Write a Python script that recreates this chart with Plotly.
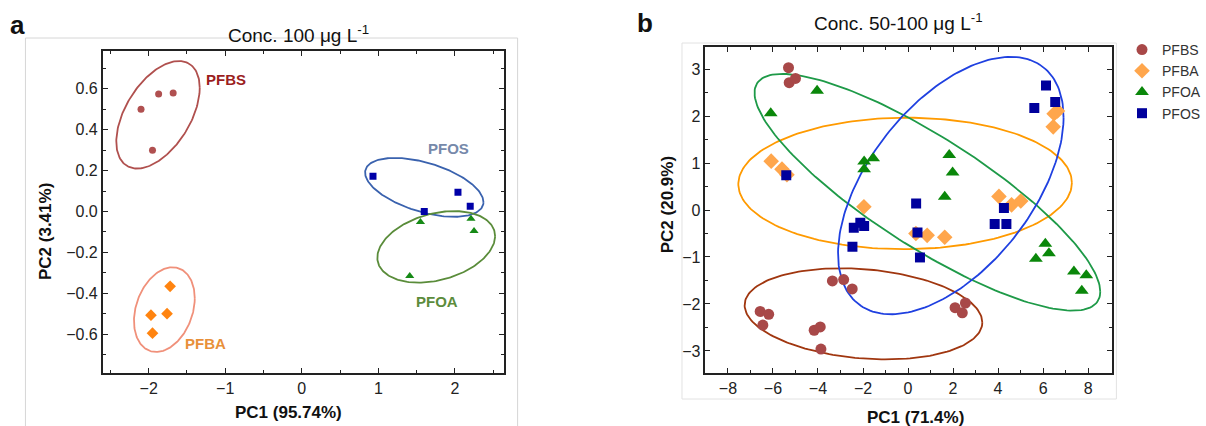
import numpy as np
import plotly.graph_objects as go

# ---------------- Panel a data (Conc. 100 ug/L) ----------------
a_pfbs_x = [-2.10, -1.87, -1.68, -1.95]
a_pfbs_y = [0.50, 0.575, 0.58, 0.30]
a_pfba_x = [-1.72, -1.97, -1.76, -1.95]
a_pfba_y = [-0.366, -0.507, -0.50, -0.595]
a_pfos_x = [0.93, 2.04, 2.20, 1.60]
a_pfos_y = [0.172, 0.094, 0.026, 0.0]
a_pfoa_x = [1.55, 2.21, 2.25, 1.41]
a_pfoa_y = [-0.052, -0.036, -0.096, -0.316]

# ellipse parameters: centre x, centre y, half-width x, half-height y, correlation
a_ell_pfbs = [-1.878, 0.473, 0.545, 0.263, 0.50]
a_ell_pfba = [-1.795, -0.480, 0.397, 0.207, 0.27]
a_ell_pfos = [1.60, 0.118, 0.773, 0.144, -0.50]
a_ell_pfoa = [1.756, -0.173, 0.769, 0.175, 0.30]

# ---------------- Panel b data (Conc. 50-100 ug/L) ----------------
b_pfbs_x = [-5.31, -5.28, -5.00, -3.36, -2.86, -2.48, -6.57, -6.19, -6.45, -4.17, -3.90, -3.87, 2.09, 2.41, 2.55]
b_pfbs_y = [3.03, 2.71, 2.80, -1.51, -1.48, -1.68, -2.16, -2.22, -2.45, -2.56, -2.49, -2.96, -2.08, -2.19, -1.98]
b_pfba_x = [-6.08, -5.60, -5.38, -1.96, 0.35, 0.85, 1.63, 4.04, 4.60, 5.01, 6.45, 6.49, 6.64]
b_pfba_y = [1.04, 0.87, 0.75, 0.07, -0.50, -0.54, -0.58, 0.29, 0.11, 0.19, 1.77, 2.05, 2.11]
b_pfoa_x = [-6.10, -4.04, -1.95, -1.55, -1.95, 1.83, 1.98, 1.63, 6.10, 6.26, 5.68, 7.37, 7.92, 7.72]
b_pfoa_y = [2.06, 2.54, 1.03, 1.10, 0.87, 1.17, 0.80, 0.28, -0.72, -0.92, -1.04, -1.31, -1.39, -1.72]
b_pfos_x = [-5.41, -2.41, -2.12, -1.95, -2.47, 0.36, 0.42, 0.53, 4.26, 3.85, 4.37, 5.61, 6.13, 6.54]
b_pfos_y = [0.74, -0.38, -0.27, -0.34, -0.78, 0.14, -0.48, -1.01, 0.04, -0.30, -0.30, 2.17, 2.65, 2.30]

b_ell_pfbs = [-1.98, -2.21, 5.28, 0.97, -0.19]
b_ell_pfba = [-0.13, 0.565, 7.41, 1.40, 0.01]
b_ell_pfoa = [0.86, 0.377, 7.68, 2.52, -0.84]
b_ell_pfos = [1.90, 0.52, 5.01, 2.74, 0.53]

series_names = ["PFBS", "PFBA", "PFOA", "PFOS"]

W, H = 1206, 426
FONT = "Liberation Sans, Arial, sans-serif"


def ellipse(p, n=200):
    cx, cy, a, b, rho = p
    t = np.linspace(0, 2 * np.pi, n)
    x = cx + a * np.cos(t)
    y = cy + b * (rho * np.cos(t) + np.sqrt(1 - rho ** 2) * np.sin(t))
    return x, y


fig = go.Figure()

# ---- panel a ----
for p, col in [(a_ell_pfbs, "#B0504E"), (a_ell_pfba, "#F0907A"),
               (a_ell_pfos, "#3A62AE"), (a_ell_pfoa, "#5A8C3A")]:
    ex, ey = ellipse(p)
    fig.add_trace(go.Scatter(x=ex, y=ey, mode="lines", line=dict(color=col, width=1.8),
                             showlegend=False, hoverinfo="skip", xaxis="x", yaxis="y"))

for xs, ys, sym, col, sz in [(a_pfbs_x, a_pfbs_y, "circle", "#B05050", 7),
                             (a_pfba_x, a_pfba_y, "diamond", "#FF8410", 9),
                             (a_pfos_x, a_pfos_y, "square", "#0000A8", 7),
                             (a_pfoa_x, a_pfoa_y, "triangle-up", "#168A16", 8)]:
    fig.add_trace(go.Scatter(x=xs, y=ys, mode="markers",
                             marker=dict(symbol=sym, color=col, size=sz, line=dict(width=0)),
                             showlegend=False, xaxis="x", yaxis="y"))

# ---- panel b ----
for p, col in [(b_ell_pfbs, "#A0360F"), (b_ell_pfba, "#FF9A00"),
               (b_ell_pfoa, "#1E9A48"), (b_ell_pfos, "#1F40E0")]:
    ex, ey = ellipse(p)
    fig.add_trace(go.Scatter(x=ex, y=ey, mode="lines", line=dict(color=col, width=1.8),
                             showlegend=False, hoverinfo="skip", xaxis="x2", yaxis="y2"))

for name, xs, ys, sym, col, sz in [
        ("PFBS", b_pfbs_x, b_pfbs_y, "circle", "#A84848", 11),
        ("PFBA", b_pfba_x, b_pfba_y, "diamond", "#FFA64C", 12),
        ("PFOA", b_pfoa_x, b_pfoa_y, "triangle-up", "#0A870A", 12),
        ("PFOS", b_pfos_x, b_pfos_y, "square", "#00009C", 10)]:
    fig.add_trace(go.Scatter(x=xs, y=ys, mode="markers", name=name,
                             marker=dict(symbol=sym, color=col, size=sz, line=dict(width=0)),
                             showlegend=True, xaxis="x2", yaxis="y2"))

axis_common = dict(showgrid=False, zeroline=False, showline=True, linecolor="#222", linewidth=1.6,
                   mirror="allticks", ticks="inside", ticklen=5, tickwidth=1.4, tickcolor="#222",
                   tickfont=dict(family=FONT, size=16, color="#222"))

fig.update_layout(
    width=W, height=H, margin=dict(l=0, r=0, t=0, b=0),
    paper_bgcolor="white", plot_bgcolor="white",
    font=dict(family=FONT, color="#222"),
    xaxis=dict(domain=[105 / W, 515 / W], range=[-2.6, 2.64], tick0=0, dtick=1,
               minor=dict(dtick=0.5, ticklen=3, ticks="inside", tickcolor="#222", tickwidth=1.4),
               anchor="y", **axis_common),
    yaxis=dict(domain=[(H - 373) / H, (H - 51) / H], range=[-0.79, 0.785], tick0=0, dtick=0.2,
               tickformat=".1f",
               minor=dict(dtick=0.1, ticklen=3, ticks="inside", tickcolor="#222", tickwidth=1.4),
               anchor="x", **axis_common),
    xaxis2=dict(domain=[721 / W, 1136 / W], range=[-9, 9.04], tick0=0, dtick=2,
                minor=dict(dtick=1, ticklen=3, ticks="inside", tickcolor="#222", tickwidth=1.4),
                anchor="y2", **axis_common),
    yaxis2=dict(domain=[(H - 373) / H, (H - 47) / H], range=[-3.47, 3.47], tick0=0, dtick=1,
                minor=dict(dtick=0.5, ticklen=3, ticks="inside", tickcolor="#222", tickwidth=1.4),
                anchor="x2", **axis_common),
    legend=dict(x=1147 / W, y=1 - 34 / H, xanchor="left", yanchor="top",
                bgcolor="rgba(0,0,0,0)", borderwidth=0,
                font=dict(family=FONT, size=14, color="#333"), tracegroupgap=0),
)

# light frames around panels
fig.add_shape(type="rect", xref="paper", yref="paper", x0=26 / W, x1=529 / W, y0=-0.2, y1=1 - 38 / H,
              line=dict(color="#D6D6D6", width=1), layer="below")
fig.add_shape(type="rect", xref="paper", yref="paper", x0=697 / W, x1=1141 / W, y0=1 - 399 / H, y1=1 - 43 / H,
              line=dict(color="#E2E2E2", width=1), layer="below")

ann = []
def px(x, y, text, size, bold=False, color="#111", angle=0):
    ann.append(dict(x=x / W, y=1 - y / H, xref="paper", yref="paper", text=(f"<b>{text}</b>" if bold else text),
                    showarrow=False, xanchor="center", yanchor="middle", textangle=angle,
                    font=dict(family=FONT, size=size, color=color)))

px(18, 25, "a", 26, bold=True)
px(659, 23, "b", 26, bold=True)
px(305, 34, "Conc. 100 μg L<sup>-1</sup>", 19)
px(918, 22, "Conc. 50-100 μg L<sup>-1</sup>", 19)
px(295, 412, "PC1 (95.74%)", 17, bold=True)
px(46, 232, "PC2 (3.41%)", 17, bold=True, angle=-90)
px(936, 417, "PC1 (71.4%)", 17, bold=True)
px(683, 205, "PC2 (20.9%)", 17, bold=True, angle=-90)

# group labels in panel a (data coordinates)
for x, y, t, c in [(-0.99, 0.644, "PFBS", "#9B1E1E"), (-1.26, -0.644, "PFBA", "#E8903A"),
                   (1.92, 0.307, "PFOS", "#7689AA"), (1.76, -0.439, "PFOA", "#5C8C3C")]:
    ann.append(dict(x=x, y=y, xref="x", yref="y", text=f"<b>{t}</b>", showarrow=False,
                    font=dict(family=FONT, size=15, color=c)))

fig.update_layout(annotations=ann)
fig.write_html("out.html")
